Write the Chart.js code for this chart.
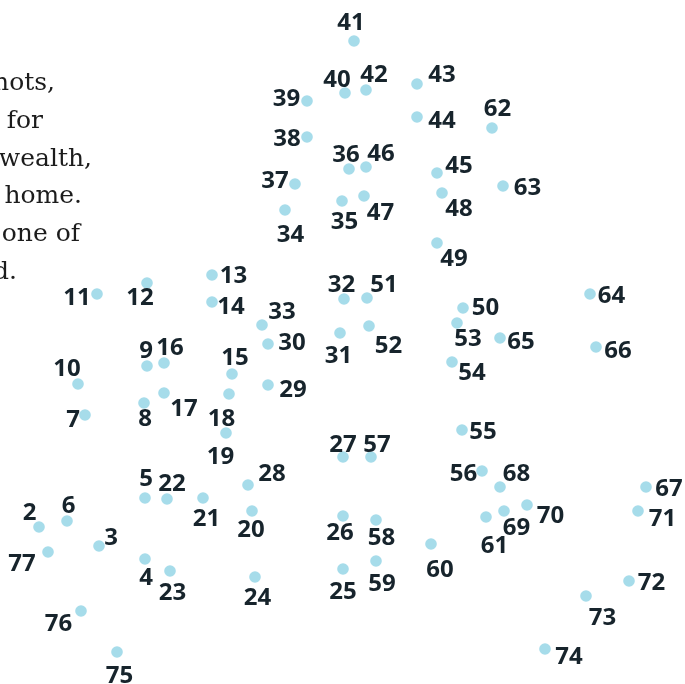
<!DOCTYPE html>
<html>
<head>
<meta charset="utf-8">
<script src="https://cdn.jsdelivr.net/npm/chart.js@4"></script>
<style>
  html, body { margin: 0; padding: 0; background: #ffffff; }
  #wrap { position: relative; width: 685px; height: 684px; }
</style>
</head>
<body>
<div id="wrap"><canvas id="c"></canvas></div>
<script>
// Dot numbers (point 1 is not shown in the reference)
const pointNumbers = [2,3,4,5,6,7,8,9,10,11,12,13,14,15,16,17,18,19,20,21,22,23,24,25,26,27,28,29,30,31,32,33,34,35,36,37,38,39,40,41,42,43,44,45,46,47,48,49,50,51,52,53,54,55,56,57,58,59,60,61,62,63,64,65,66,67,68,69,70,71,72,73,74,75,76,77];
// Horizontal position of each dot (x value)
const xValues = [39,99,145,145,67,85,144,147,78,97,147,212,212,232,164,164,229,226,252,203,167,170,255,343,343,343,248,268,268,340,344,262,285,342,349,295,307,307,345,354,366,417,417,437,366,364,442,437,463,367,369,457,452,462,482,371,376,376,431,486,492,503,590,500,596,646,500,504,527,638,629,586,545,117,81,48];
// Vertical position of each dot (y value, measured downward)
const yValues = [527,546,559,498,521,415,403,366,384,294,283,275,302,374,363,393,394,433,511,498,499,571,577,569,516,457,485,385,344,333,299,325,210,201,169,184,137,101,93,41,90,84,117,173,167,196,193,243,308,298,326,323,362,430,471,457,520,561,544,517,128,186,294,338,347,487,487,511,505,511,581,596,649,652,611,552];
// Paragraph fragments at the left edge (text cut off by the frame)
const textLines = ["hots,", " for", "wealth,", "home.", "one of", "d."];

// ---- layout / style (not data) ----
const labelOffsets = [
  [-9.5,-16],[12,-10],[1,17],[1,-20.5],[1.5,-17],[-12,3],[1,14.5],[-1,-17],[-11,-16.5],[-20,2],
  [-7,13],[21.5,-1],[19,3],[3,-18],[6,-16.5],[20,14.5],[-7.5,23.5],[-5.5,22.5],[-1,17.5],[3.5,19.5],
  [5,-16.5],[2.5,20],[2.5,19],[0,21.5],[-3,15],[0,-14],[24,-12.5],[25,3],[24,-2.5],[-1.5,21],
  [-2.5,-16],[20,-15],[5.5,23],[2.5,19.5],[-3,-16],[-20,-4.5],[-20,0],[-20.5,-3.5],[-8,-15],[-3,-20],
  [8,-16.5],[25,-10.5],[25,2],[22,-9],[15,-15],[16.5,15],[17,14],[17,14],[22.5,-2],[17,-15],
  [19.5,18],[11,14],[20,9],[21,0],[-18.5,1.5],[6,-14],[5.5,16.5],[6,21.5],[9,24],[8.5,27],
  [5.5,-20.5],[24.5,0],[21.5,0],[21,2],[22,2],[23,0],[16.5,-14.5],[12.5,15],[23.5,9],[24.5,6.5],
  [22.5,0],[16.5,20],[24,6],[2.5,22],[-22.5,11.5],[-26,10.5]
];
const textRight = [55, 43, 92, 82, 80, 17];
const textBaseline0 = 90, textLineStep = 37.8;
const labelFontSize = 24;

const labelPlugin = {
  id: 'dotLabels',
  beforeDatasetsDraw(chart) {
    const ctx = chart.ctx;
    ctx.save();
    ctx.fillStyle = '#1c1c1c';
    ctx.font = '25px "DejaVu Serif", serif';
    ctx.textAlign = 'right';
    ctx.textBaseline = 'alphabetic';
    textLines.forEach((t, i) => {
      ctx.fillText(t, textRight[i], textBaseline0 + i * textLineStep);
    });
    ctx.restore();
  },
  afterDatasetsDraw(chart) {
    const ctx = chart.ctx;
    const meta = chart.getDatasetMeta(0);
    ctx.save();
    ctx.fillStyle = '#17242c';
    ctx.font = '700 ' + labelFontSize + 'px "Open Sans", sans-serif';
    ctx.textAlign = 'center';
    ctx.textBaseline = 'alphabetic';
    meta.data.forEach((el, i) => {
      const off = labelOffsets[i] || [0, -18];
      ctx.fillText(String(pointNumbers[i]), el.x + off[0], el.y + off[1] + 0.357 * labelFontSize);
    });
    ctx.restore();
  }
};

const data = {
  datasets: [{
    data: xValues.map((x, i) => ({ x: x, y: yValues[i] })),
    pointRadius: 5.8,
    pointHoverRadius: 5.8,
    pointBackgroundColor: '#a6dcea',
    pointBorderWidth: 0,
    showLine: false
  }]
};

new Chart(document.getElementById('c'), {
  type: 'scatter',
  data: data,
  options: {
    responsive: true,
    maintainAspectRatio: false,
    animation: false,
    layout: { padding: 0, autoPadding: false },
    plugins: { legend: { display: false }, tooltip: { enabled: false } },
    scales: {
      x: { type: 'linear', min: 0, max: 685, display: false },
      y: { type: 'linear', min: 0, max: 684, reverse: true, display: false }
    }
  },
  plugins: [labelPlugin]
});
</script>
</body>
</html>
